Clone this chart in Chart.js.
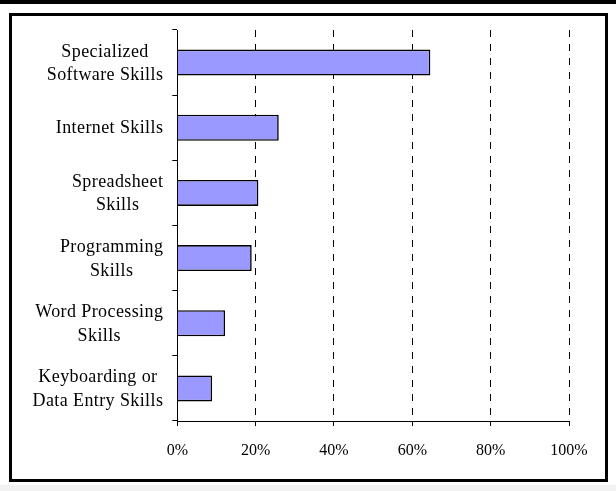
<!DOCTYPE html>
<html>
<head>
<meta charset="utf-8">
<script src="https://cdn.jsdelivr.net/npm/chart.js@4.4.1/dist/chart.umd.min.js"></script>
<style>
html, body {
  margin: 0;
  padding: 0;
  background: #ffffff;
  width: 616px;
  height: 491px;
  overflow: hidden;
  position: relative;
}
#topRule {
  position: absolute;
  left: 0;
  top: 0;
  width: 616px;
  height: 4px;
  background: #000000;
}
#frame {
  position: absolute;
  left: 9px;
  top: 13px;
  width: 593px;
  height: 463px;
  border: 3px solid #000000;
  background: #ffffff;
}
#bottomBand {
  position: absolute;
  left: 0;
  top: 485px;
  width: 616px;
  height: 6px;
  background: #f2f2f2;
}
</style>
</head>
<body>
<div id="topRule"></div>
<div id="frame"><canvas id="skillsChart"></canvas></div>
<div id="bottomBand"></div>
<script>
const categories = [
  ["Specialized", "Software Skills"],
  ["Internet Skills"],
  ["Spreadsheet", "Skills"],
  ["Programming", "Skills"],
  ["Word Processing", "Skills"],
  ["Keyboarding or", "Data Entry Skills"]
];
const shares = [64.6, 25.9, 20.7, 19.0, 12.2, 8.9];
const xMin = 0;
const xMax = 100;
const xStep = 20;

const labelFont = "18px 'Liberation Serif', 'Times New Roman', serif";
const tickFont = { family: "'Liberation Serif', 'Times New Roman', serif", size: 16 };

// category labels: each block right-aligned against the axis, lines centred inside the block
const blockLabels = {
  id: "blockLabels",
  afterDraw(chart) {
    const yScale = chart.scales.y;
    const ctx = chart.ctx;
    const right = chart.chartArea.left - 14;
    const lineHeight = 23.5;
    ctx.save();
    ctx.font = labelFont;
    ctx.letterSpacing = "0.4px";
    ctx.fillStyle = "#000000";
    ctx.textAlign = "center";
    ctx.textBaseline = "middle";
    for (let i = 0; i < categories.length; i++) {
      const lines = categories[i];
      let widest = 0;
      for (let j = 0; j < lines.length; j++) {
        widest = Math.max(widest, ctx.measureText(lines[j]).width);
      }
      const cx = right - widest / 2;
      const cy = yScale.getPixelForValue(i);
      const firstY = cy - (lines.length - 1) * lineHeight / 2;
      for (let j = 0; j < lines.length; j++) {
        ctx.fillText(lines[j], cx, firstY + j * lineHeight + 1);
      }
    }
    ctx.restore();
  }
};

const canvas = document.getElementById("skillsChart");
new Chart(canvas, {
  type: "bar",
  data: {
    labels: categories,
    datasets: [
      {
        data: shares,
        backgroundColor: "#9999ff",
        borderColor: "#000000",
        borderWidth: 1.6,
        borderSkipped: "start",
        barPercentage: 0.4,
        categoryPercentage: 1
      }
    ]
  },
  options: {
    indexAxis: "y",
    responsive: true,
    maintainAspectRatio: false,
    animation: false,
    layout: {
      padding: { left: 0, right: 36, top: 14, bottom: 0 }
    },
    plugins: {
      legend: { display: false },
      tooltip: { enabled: false }
    },
    scales: {
      x: {
        min: xMin,
        max: xMax,
        afterFit: scale => {
          scale.height = 58;
        },
        ticks: {
          stepSize: xStep,
          color: "#000000",
          font: tickFont,
          padding: 15,
          maxRotation: 0,
          callback: value => value + "%"
        },
        grid: {
          color: "#000000",
          lineWidth: 1,
          drawTicks: true,
          tickLength: 5,
          tickColor: "#000000",
          tickBorderDash: []
        },
        border: {
          display: true,
          color: "#000000",
          width: 1,
          dash: [7, 7]
        }
      },
      y: {
        afterFit: scale => {
          scale.width = 165.3;
        },
        ticks: {
          display: false
        },
        grid: {
          offset: true,
          drawOnChartArea: false,
          drawTicks: true,
          tickLength: 5,
          color: "#000000",
          tickColor: "#000000"
        },
        border: {
          display: true,
          color: "#000000",
          width: 1
        }
      }
    }
  },
  plugins: [blockLabels]
});
</script>
</body>
</html>
